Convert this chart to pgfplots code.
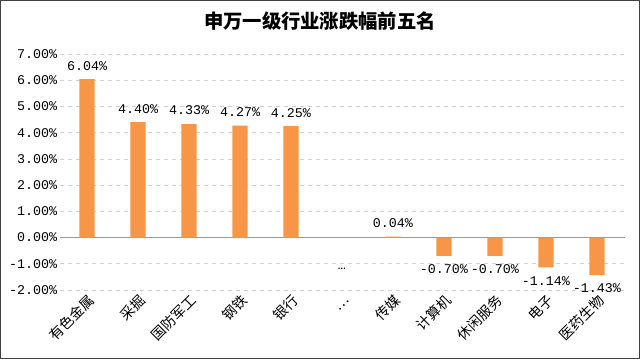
\documentclass[border=0pt]{standalone}
\usepackage{pgfplots}
\pgfplotsset{compat=1.18}
\usepackage{fontspec}
\setmainfont{Liberation Serif}
\newfontfamily\num{Liberation Mono}
\newfontfamily\cjk{Noto Sans CJK SC}
\definecolor{barc}{HTML}{F79646}
\definecolor{gridc}{HTML}{D0D0D0}
\begin{document}
\begin{tikzpicture}
\path[use as bounding box] (0,0) rectangle (480pt,269.25pt);
\draw[line width=1pt, black!75] (0.5pt,0.5pt) rectangle (479.5pt,268.75pt);
\node[font=\cjk\bfseries\fontsize{14.5}{16}\selectfont] at (240pt,253.5pt) {申万一级行业涨跌幅前五名};
\begin{axis}[
  at={(45pt,51.75pt)}, anchor=south west,
  scale only axis, width=423.75pt, height=177pt,
  ybar, bar width=0.3,
  xmin=-0.53, xmax=10.55, ymin=-2, ymax=7,
  ytick={-2,-1,...,7},
  xtick={0,...,10},
  xticklabels={有色金属,采掘,国防军工,钢铁,银行,…,传媒,计算机,休闲服务,电子,医药生物},
  xticklabel style={font=\cjk\fontsize{10.5}{12}\selectfont, rotate=45, anchor=north east, inner sep=1pt},
  typeset ticklabels with strut,
  xticklabel shift=1pt,
  /pgf/number format/assume math mode=true,
  yticklabel={\pgfmathprintnumber[fixed,fixed zerofill,precision=2]{\tick}\%},
  yticklabel style={font=\num\fontsize{10}{11}\selectfont, inner sep=2pt},
  axis line style={draw=none},
  major tick length=0pt,
  ymajorgrids, grid style={gridc, dashed, line width=0.5pt},
  extra y ticks={0}, extra y tick labels={},
  extra y tick style={grid style={solid, black!40, line width=0.75pt}},
  nodes near coords={\pgfmathprintnumber[fixed,fixed zerofill,precision=2]{\pgfplotspointmeta}\%},
  nodes near coords align={vertical},
  every node near coord/.append style={font=\num\fontsize{10}{11}\selectfont, inner sep=6.5pt},
  clip=false,
]
\addplot[fill=barc, draw=none] coordinates {
(0,6.04) (1,4.40) (2,4.33) (3,4.27) (4,4.25) (6,0.04) (7,-0.70) (8,-0.70) (9,-1.14) (10,-1.43)
};
\node[font=\num\fontsize{10}{11}\selectfont] at (axis cs:5,-1.2) {…};
\end{axis}
\end{tikzpicture}
\end{document}
